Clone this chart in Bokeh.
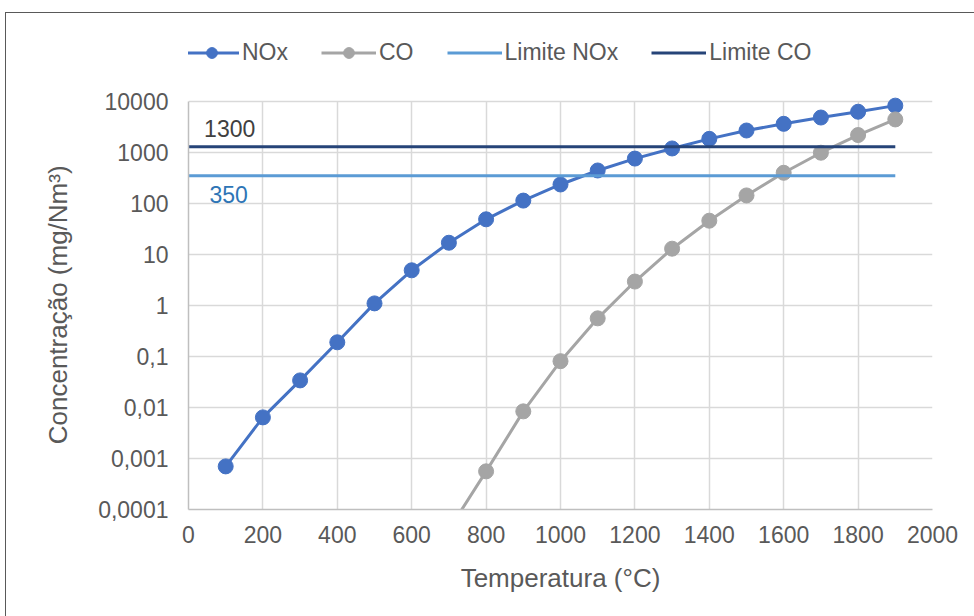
from bokeh.plotting import figure
from bokeh.models import Range1d, FixedTicker, Legend, LegendItem, ColumnDataSource
from bokeh.core.properties import value
from bokeh.embed import file_html
from bokeh.resources import INLINE

# ---- data ----
temperatura = [100, 200, 300, 400, 500, 600, 700, 800, 900, 1000,
               1100, 1200, 1300, 1400, 1500, 1600, 1700, 1800, 1900]
nox = [0.0007, 0.0064, 0.034, 0.19, 1.1, 4.9, 17, 49, 114, 236,
       444, 760, 1200, 1850, 2700, 3650, 4850, 6300, 8300]
co_temp = [700, 800, 900, 1000, 1100, 1200, 1300, 1400, 1500, 1600, 1700, 1800, 1900]
co = [0.00004, 0.00056, 0.0084, 0.081, 0.56, 2.95, 13, 46, 144, 400, 990, 2200, 4450]
limite_x = [0, 1900]
limite_nox = [350, 350]
limite_co = [1300, 1300]
label_x = [100]
x_ticks = [0, 200, 400, 600, 800, 1000, 1200, 1400, 1600, 1800, 2000]
y_ticks = [0.0001, 0.001, 0.01, 0.1, 1, 10, 100, 1000, 10000]
y_tick_labels = ["0,0001", "0,001", "0,01", "0,1", "1", "10", "100", "1000", "10000"]

FONT = "Liberation Sans"
TXT = "#595959"
C_NOX = "#4472C4"
C_CO = "#A5A5A5"
C_LNOX = "#5B9BD5"
C_LCO = "#264478"

# plotting area: 8 decades over 408 px; the frame extends upward to hold the legend
DATA_H = 408
FRAME_H = 496
y_top = 10 ** (4 + 8 * (FRAME_H - DATA_H) / DATA_H)

p = figure(frame_width=744, frame_height=FRAME_H,
           min_border_left=182, min_border_right=42,
           min_border_top=0, min_border_bottom=107,
           x_range=Range1d(0, 2000), y_range=Range1d(y_ticks[0], y_top),
           y_axis_type="log", output_backend="svg", toolbar_location=None)
p.title.visible = False
p.margin = (12, 0, 0, 5)
p.styles = {"border-left": "1.5px solid #595959", "border-top": "1.5px solid #595959"}
p.outline_line_color = None
p.background_fill_color = "white"
p.border_fill_color = "white"

# axes
p.xaxis.ticker = FixedTicker(ticks=x_ticks)
p.yaxis.ticker = FixedTicker(ticks=y_ticks)
p.yaxis.major_label_overrides = {t: l for t, l in zip(y_ticks, y_tick_labels)}
p.yaxis.bounds = (y_ticks[0], y_ticks[-1])
for ax in (p.xaxis[0], p.yaxis[0]):
    ax.major_tick_out = 0
    ax.major_tick_in = 0
    ax.minor_tick_out = 0
    ax.minor_tick_in = 0
    ax.axis_line_color = "#BFBFBF"
    ax.axis_line_width = 1.5
    ax.major_label_text_font = FONT
    ax.major_label_text_font_size = "23px"
    ax.major_label_text_color = TXT
    ax.axis_label_text_font = FONT
    ax.axis_label_text_font_size = "26px"
    ax.axis_label_text_font_style = "normal"
    ax.axis_label_text_color = TXT
p.xaxis.major_label_standoff = 16
p.yaxis.major_label_standoff = 20
p.xaxis.axis_label = "Temperatura (°C)"
# trailing no-break spaces keep the title centred on the 10^-4..10^4 span
p.yaxis.axis_label = "Concentração (mg/Nm³)" + "\u00a0" * 12
p.xaxis.axis_label_standoff = 17
p.yaxis.axis_label_standoff = 22

p.xgrid.ticker = FixedTicker(ticks=x_ticks)
p.ygrid.ticker = FixedTicker(ticks=y_ticks)
p.xgrid.grid_line_color = "#D9D9D9"
p.ygrid.grid_line_color = "#D9D9D9"
p.xgrid.grid_line_width = 1.5
p.ygrid.grid_line_width = 1.5
p.ygrid.minor_grid_line_color = None
if hasattr(p.xgrid[0], "cross_bounds"):
    p.xgrid[0].cross_bounds = (y_ticks[0], y_ticks[-1])

# series
l_nox = p.line(temperatura, nox, line_color=C_NOX, line_width=3)
s_nox = p.scatter(temperatura, nox, size=15, fill_color=C_NOX, line_color=C_NOX)
l_co = p.line(co_temp, co, line_color=C_CO, line_width=3)
s_co = p.scatter(co_temp, co, size=15, fill_color=C_CO, line_color=C_CO)
l_lnox = p.line(limite_x, limite_nox, line_color=C_LNOX, line_width=3)
l_lco = p.line(limite_x, limite_co, line_color=C_LCO, line_width=3)

# data labels
p.text(x=label_x, y=[limite_co[0]], text=[str(limite_co[0])],
       text_font=value(FONT), text_font_size="23px", text_color="#404040",
       text_align="center", text_baseline="alphabetic", x_offset=4, y_offset=-18)
p.text(x=label_x, y=[limite_nox[0]], text=[str(limite_nox[0])],
       text_font=value(FONT), text_font_size="23px", text_color="#2E75B6",
       text_align="center", text_baseline="alphabetic", x_offset=3, y_offset=19)

# legend (proxy marker glyphs, never shown in the plot)
nan = float("nan")
proxy = ColumnDataSource(dict(x=[nan], y=[nan]))
g_nox_m = p.scatter("x", "y", source=proxy, size=12, fill_color=C_NOX, line_color=C_NOX)
g_co_m = p.scatter("x", "y", source=proxy, size=12, fill_color=C_CO, line_color=C_CO)
legend = Legend(items=[
    LegendItem(label="NOx", renderers=[l_nox, g_nox_m]),
    LegendItem(label="CO", renderers=[l_co, g_co_m]),
    LegendItem(label="Limite NOx", renderers=[l_lnox]),
    LegendItem(label="Limite CO", renderers=[l_lco]),
], orientation="horizontal", location=(-4, 443))
legend.glyph_width = 55
legend.glyph_height = 27
legend.label_standoff = 3
legend.spacing = 33
legend.padding = 5
legend.margin = 0
legend.label_text_font = FONT
legend.label_text_font_size = "23px"
legend.label_text_color = TXT
legend.border_line_color = None
legend.background_fill_alpha = 0
p.add_layout(legend, "center")

open("out.html", "w").write(file_html(p, INLINE))
